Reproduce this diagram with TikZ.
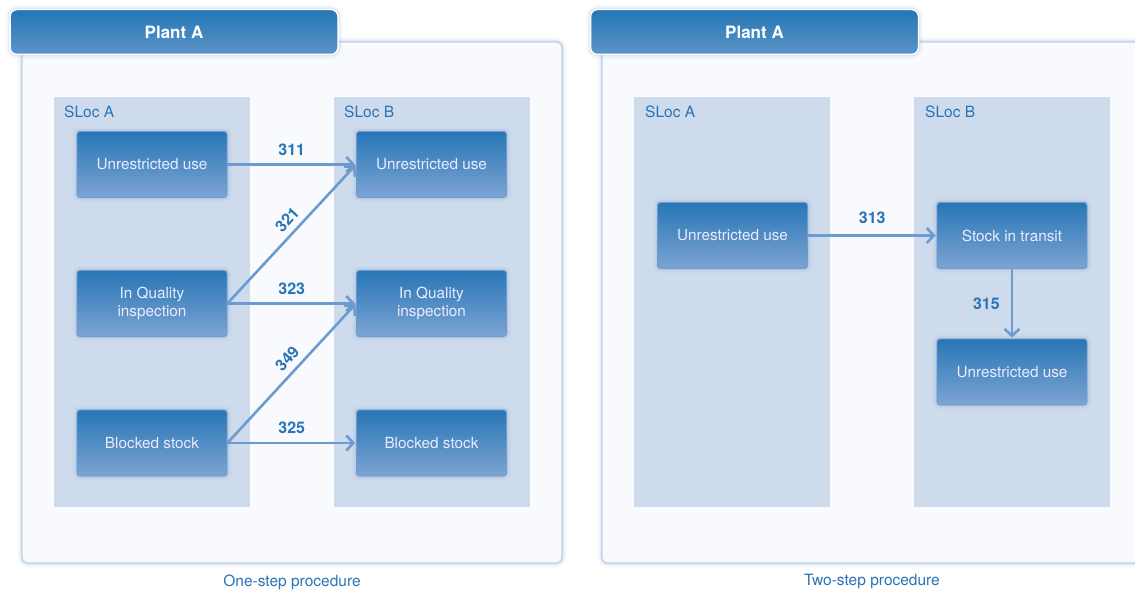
\documentclass[tikz,border=0pt]{standalone}
\usepackage{fontspec}
\setmainfont{TeX Gyre Heros}
\usetikzlibrary{arrows.meta}
\definecolor{boxtop}{RGB}{40,118,182}
\definecolor{boxbot}{RGB}{124,164,210}
\definecolor{boxedge}{RGB}{112,154,206}
\definecolor{slocfill}{RGB}{206,219,236}
\definecolor{panelfill}{RGB}{248,250,253}
\definecolor{paneledge}{RGB}{192,209,232}
\definecolor{arrowc}{RGB}{108,155,208}
\definecolor{labelc}{RGB}{40,116,182}
\definecolor{glowc}{RGB}{120,160,212}
\definecolor{hdtop}{RGB}{36,118,180}
\definecolor{hdbot}{RGB}{92,148,200}

\tikzset{
  softglow/.style={
    preaction={draw=glowc, line width=9pt, opacity=0.06},
    preaction={draw=glowc, line width=5pt, opacity=0.10},
    preaction={draw=glowc, line width=2.5pt, opacity=0.18}},
  panel/.style={softglow, draw=paneledge, fill=panelfill, line width=1.2pt, rounded corners=6pt},
  header/.style={softglow, draw=white, line width=1.5pt, rounded corners=7pt,
    top color=hdtop, bottom color=hdbot, minimum width=328pt, minimum height=45pt,
    text=white, font=\fontsize{17}{20}\selectfont\bfseries},
  sloc/.style={fill=slocfill, minimum width=196pt, minimum height=410pt, inner sep=0pt},
  sloclabel/.style={anchor=west, text=labelc, font=\fontsize{15.5}{18}\selectfont, inner sep=0pt},
  item/.style={softglow, draw=boxedge, line width=0.8pt, rounded corners=3pt,
    top color=boxtop, bottom color=boxbot, minimum width=150pt, minimum height=66pt,
    text=white!92!blue, align=center, font=\fontsize{15.3}{18}\selectfont},
  flow/.style={draw=arrowc, line width=2.6pt,
    -{Straight Barb[length=7pt, width=15pt, line width=2.6pt]}, shorten >=1pt},
  code/.style={text=labelc, font=\fontsize{16}{18}\selectfont\bfseries, inner sep=1pt},
  caption/.style={text=labelc, font=\fontsize{15.5}{18}\selectfont}
}

\begin{document}
\begin{tikzpicture}[x=1pt, y=-1pt]
\clip (0,0) rectangle (1135,594);
\fill[white] (0,0) rectangle (1135,594);

% ---------------- one-step procedure ----------------
\draw[panel] (22,42) rectangle (562,563);
\node[header] (hA) at (174,32) {Plant A};

\node[sloc] (slA1) at (152,302) {};
\node[sloc] (slB1) at (431.5,302) {};
\node[sloclabel] (tA1) at (64,112) {SLoc A};
\node[sloclabel] (tB1) at (344,112) {SLoc B};

\node[item] (a1) at (152,164.5) {Unrestricted use};
\node[item] (a2) at (152,303.5) {In Quality\\inspection};
\node[item] (a3) at (152,443) {Blocked stock};
\node[item] (b1) at (431.5,164.5) {Unrestricted use};
\node[item] (b2) at (431.5,303.5) {In Quality\\inspection};
\node[item] (b3) at (431.5,443) {Blocked stock};

\draw[flow] (a1.east) -- node[code, above=7pt] (c311) {311} (b1.west);
\draw[flow] (a2.east) -- node[code, above=5pt, sloped, pos=0.54] (c321) {321} (b1.west);
\draw[flow] (a2.east) -- node[code, above=7pt] (c323) {323} (b2.west);
\draw[flow] (a3.east) -- node[code, above=5pt, sloped, pos=0.54] (c349) {349} (b2.west);
\draw[flow] (a3.east) -- node[code, above=7pt] (c325) {325} (b3.west);

\node[caption] (cap1) at (292,582) {One-step procedure};

% ---------------- two-step procedure ----------------
\draw[panel] (602,42) rectangle (1160,563);
\node[header] (hB) at (754.5,32) {Plant A};

\node[sloc] (slA2) at (732,302) {};
\node[sloc] (slB2) at (1012,302) {};
\node[sloclabel] (tA2) at (645,112) {SLoc A};
\node[sloclabel] (tB2) at (925,112) {SLoc B};

\node[item] (p1) at (732.5,235.5) {Unrestricted use};
\node[item] (q1) at (1012,235.5) {Stock in transit};
\node[item] (q2) at (1012,372) {Unrestricted use};

\draw[flow] (p1.east) -- node[code, above=10pt] (c313) {313} (q1.west);
\draw[flow] (q1.south) -- node[code, left=10pt] (c315) {315} (q2.north);

\node[caption] (cap2) at (872,582) {Two-step procedure};
\end{tikzpicture}
\end{document}
